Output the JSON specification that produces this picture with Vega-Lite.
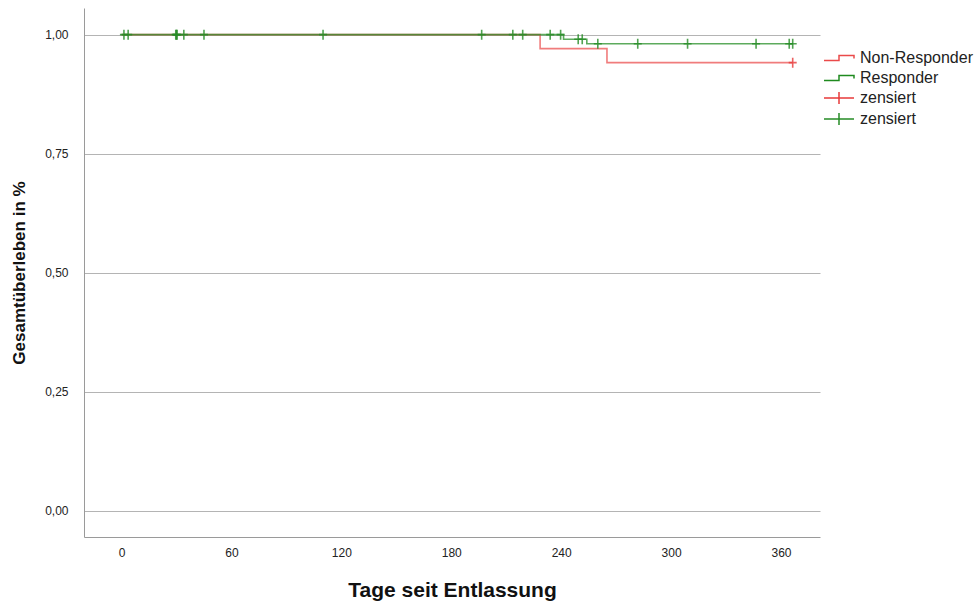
{
  "$schema": "https://vega.github.io/schema/vega-lite/v6.json",
  "width": 736,
  "height": 529,
  "autosize": {"type": "none"},
  "padding": {"left": 84, "top": 8, "right": 160, "bottom": 73},
  "background": "white",
  "config": {
    "view": {"stroke": null},
    "font": "Liberation Sans",
    "axis": {
      "domainColor": "#9a9a9a",
      "gridColor": "#b4b4b4",
      "ticks": false,
      "tickSize": 0,
      "labelFont": "Liberation Sans",
      "labelFontSize": 12,
      "labelColor": "#222222",
      "titleFont": "Liberation Sans",
      "titleColor": "#111111",
      "titleFontWeight": "bold"
    }
  },
  "datasets": {
    "curve": [
      {"grp": "Non-Responder", "day": 0, "surv": 1.0},
      {"grp": "Non-Responder", "day": 228.5, "surv": 0.9706},
      {"grp": "Non-Responder", "day": 265, "surv": 0.9412},
      {"grp": "Non-Responder", "day": 366.4, "surv": 0.9412},
      {"grp": "Responder", "day": 0, "surv": 1.0},
      {"grp": "Responder", "day": 241.3, "surv": 0.9905},
      {"grp": "Responder", "day": 254, "surv": 0.981},
      {"grp": "Responder", "day": 366.4, "surv": 0.981}
    ],
    "cens": [
      {"grp": "zensiert NR", "day": 366.4, "surv": 0.9412},
      {"grp": "zensiert R", "day": 1.3, "surv": 1.0},
      {"grp": "zensiert R", "day": 3.6, "surv": 1.0},
      {"grp": "zensiert R", "day": 29.6, "surv": 1.0},
      {"grp": "zensiert R", "day": 30, "surv": 1.0},
      {"grp": "zensiert R", "day": 30.3, "surv": 1.0},
      {"grp": "zensiert R", "day": 34, "surv": 1.0},
      {"grp": "zensiert R", "day": 45, "surv": 1.0},
      {"grp": "zensiert R", "day": 110, "surv": 1.0},
      {"grp": "zensiert R", "day": 196.6, "surv": 1.0},
      {"grp": "zensiert R", "day": 213.6, "surv": 1.0},
      {"grp": "zensiert R", "day": 219, "surv": 1.0},
      {"grp": "zensiert R", "day": 234, "surv": 1.0},
      {"grp": "zensiert R", "day": 239.7, "surv": 1.0},
      {"grp": "zensiert R", "day": 249.3, "surv": 0.9905},
      {"grp": "zensiert R", "day": 251.5, "surv": 0.9905},
      {"grp": "zensiert R", "day": 260, "surv": 0.981},
      {"grp": "zensiert R", "day": 281.8, "surv": 0.981},
      {"grp": "zensiert R", "day": 309, "surv": 0.981},
      {"grp": "zensiert R", "day": 346.4, "surv": 0.981},
      {"grp": "zensiert R", "day": 364.5, "surv": 0.981},
      {"grp": "zensiert R", "day": 366.4, "surv": 0.981}
    ]
  },
  "encoding": {
    "x": {
      "field": "day",
      "type": "quantitative",
      "scale": {"domain": [-20.5, 381.3], "nice": false, "zero": false},
      "axis": {
        "title": "Tage seit Entlassung",
        "values": [0, 60, 120, 180, 240, 300, 360],
        "grid": false,
        "labelPadding": 10,
        "titleFontSize": 21,
        "titlePadding": 21
      }
    },
    "y": {
      "field": "surv",
      "type": "quantitative",
      "scale": {"domain": [-0.055, 1.056], "nice": false, "zero": false},
      "axis": {
        "title": "Gesamtüberleben in %",
        "values": [0, 0.25, 0.5, 0.75, 1],
        "labelExpr": "replace(format(datum.value, '.2f'), '.', ',')",
        "grid": true,
        "labelPadding": 16,
        "titleFontSize": 17,
        "titlePadding": 16
      }
    },
    "color": {
      "field": "grp",
      "type": "nominal",
      "scale": {
        "domain": ["Non-Responder", "Responder", "zensiert NR", "zensiert R"],
        "range": ["#ea4a4a", "#1f8a1f", "#e83a3a", "#268c26"]
      },
      "legend": {
        "title": null,
        "orient": "none",
        "legendX": 744,
        "legendY": 39,
        "padding": 0,
        "rowPadding": 1,
        "symbolSize": 400,
        "symbolStrokeWidth": 1.5,
        "symbolFillColor": "transparent",
        "labelFont": "Liberation Sans",
        "labelFontSize": 16,
        "labelColor": "#222222",
        "labelOffset": 10,
        "labelExpr": "indexof(datum.label, 'zensiert') == 0 ? 'zensiert' : datum.label",
        "encoding": {
          "symbols": {
            "shape": {"value": {"expr": "indexof(datum.value, 'zensiert') == 0 ? 'M-1.5,0H1.5M0,-0.6V0.6' : 'M-1.5,0.25H0V-0.25H1.5V0.05'"}},
            "opacity": {"value": 1}
          }
        }
      }
    }
  },
  "layer": [
    {
      "data": {"name": "curve"},
      "mark": {"type": "line", "interpolate": "step-after", "strokeWidth": 1.6, "opacity": 0.72}
    },
    {
      "data": {"name": "cens"},
      "mark": {"type": "point", "shape": "M-1,0H1M0,-1.25V1.25", "filled": false, "size": 64, "strokeWidth": 1.6, "opacity": 0.8}
    }
  ]
}
